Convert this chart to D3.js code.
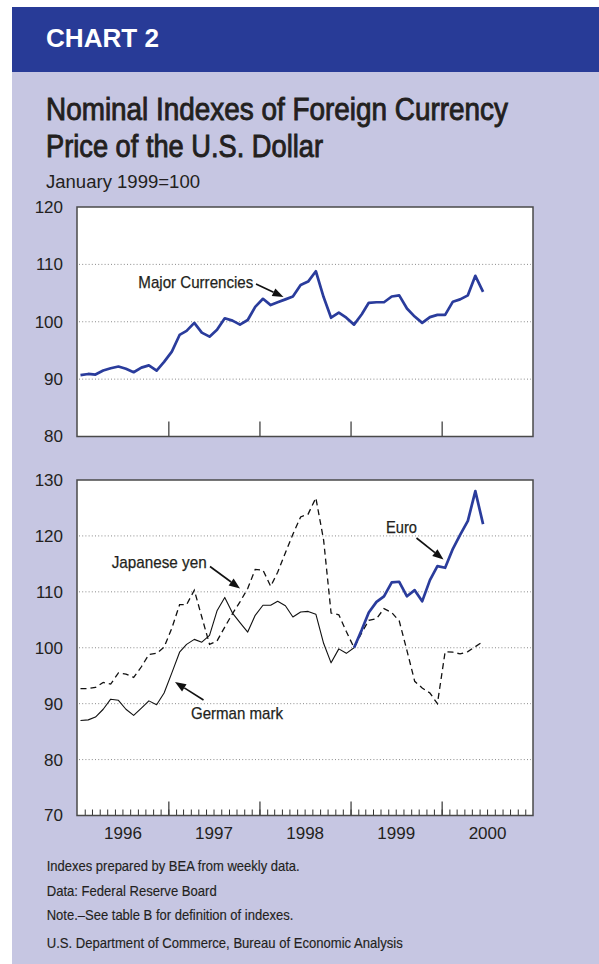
<!DOCTYPE html>
<html><head><meta charset="utf-8">
<script src="https://cdn.jsdelivr.net/npm/d3@7"></script>
<style>body{margin:0;background:#fff}svg{display:block}</style>
</head><body><svg id="c" width="599" height="964"></svg>
<script>
// ---------- data ----------
const months = [
  "1996-01","1996-02","1996-03","1996-04","1996-05","1996-06","1996-07","1996-08","1996-09","1996-10","1996-11","1996-12",
  "1997-01","1997-02","1997-03","1997-04","1997-05","1997-06","1997-07","1997-08","1997-09","1997-10","1997-11","1997-12",
  "1998-01","1998-02","1998-03","1998-04","1998-05","1998-06","1998-07","1998-08","1998-09","1998-10","1998-11","1998-12",
  "1999-01","1999-02","1999-03","1999-04","1999-05","1999-06","1999-07","1999-08","1999-09","1999-10","1999-11","1999-12",
  "2000-01","2000-02","2000-03","2000-04","2000-05","2000-06"
];
const majorCurrencies = [
  90.7, 90.9, 90.8, 91.5, 91.9, 92.2, 91.8, 91.2, 92.0, 92.4, 91.5, 93.0,
  94.8, 97.7, 98.4, 99.8, 98.1, 97.4, 98.6, 100.6, 100.2, 99.5, 100.3, 102.6,
  104.0, 102.9, 103.4, 103.9, 104.4, 106.4, 107.0, 108.8, 104.3, 100.7, 101.6, 100.7,
  99.5, 101.3, 103.3, 103.4, 103.4, 104.4, 104.6, 102.3, 100.9, 99.8, 100.8, 101.2,
  101.2, 103.5, 103.9, 104.6, 108.0, 105.2
];
const japaneseYen = [
  92.7, 92.7, 92.9, 93.8, 93.5, 95.5, 95.3, 94.7, 96.6, 98.8, 99.0, 100.1,
  103.5, 107.7, 107.7, 110.3, 105.5, 100.6, 101.2, 103.7, 106.1, 108.2, 110.6, 114.0,
  113.9, 111.0, 113.5, 117.0, 120.3, 123.4, 123.9, 126.8, 119.3, 106.2, 105.9, 102.9,
  100.0, 102.7, 104.9, 105.2, 107.0, 106.3, 104.8, 99.5, 94.0, 92.8, 91.9, 90.0,
  99.3, 99.2, 98.9, 99.3, 100.2, 101.1
];
// German mark: Jan 1996 - Jan 1999
const germanMark = [
  87.0, 87.1, 87.6, 89.0, 90.8, 90.6, 89.0, 87.9, 89.2, 90.5, 89.8, 91.9,
  95.5, 99.2, 100.6, 101.5, 101.0, 102.2, 106.6, 109.0, 106.2, 104.5, 102.8, 105.8,
  107.6, 107.6, 108.3, 107.5, 105.5, 106.4, 106.5, 106.0, 100.8, 97.3, 99.8, 99.0,
  100.0
];
// Euro: Jan 1999 - Jun 2000
const euro = [
  100.0, 103.2, 106.3, 108.2, 109.2, 111.7, 111.8, 109.2, 110.3, 108.3, 112.1, 114.6,
  114.3, 117.7, 120.2, 122.7, 128.0, 122.1
];
const euroStartIndex = 36;
const topYTicks = [80, 90, 100, 110, 120];
const bottomYTicks = [70, 80, 90, 100, 110, 120, 130];
const yearLabels = ["1996", "1997", "1998", "1999", "2000"];
const footnotes = [
  "Indexes prepared by BEA from weekly data.",
  "Data: Federal Reserve Board",
  "Note.\u2013See table B for definition of indexes.",
  "U.S. Department of Commerce, Bureau of Economic Analysis"
];

// ---------- setup ----------
const svg = d3.select("#c");
const BG = "#c6c6e2", BLUE = "#283b97", LINEBLUE = "#2a3c9c", INK = "#231f20";
const NARROW = "'Liberation Sans Narrow','Arial Narrow','Liberation Sans',Arial,sans-serif";
const SANS = "'Liberation Sans',Arial,Helvetica,sans-serif";

svg.append("rect").attr("x", 12).attr("y", 7).attr("width", 587).attr("height", 957).attr("fill", BG);
svg.append("rect").attr("x", 12).attr("y", 7).attr("width", 587).attr("height", 65).attr("fill", BLUE);

function txt(x, y, s, size, width, opts = {}) {
  const t = svg.append("text").attr("x", x).attr("y", y).text(s)
    .attr("font-family", opts.family || NARROW).attr("font-size", size)
    .attr("fill", opts.fill || INK);
  if (opts.weight) t.attr("font-weight", opts.weight);
  if (opts.stroke) t.attr("stroke", opts.fill || INK).attr("stroke-width", opts.stroke);
  if (width) t.attr("textLength", width).attr("lengthAdjust", "spacingAndGlyphs");
  return t;
}
txt(46, 47, "CHART 2", 25, 113, {family: SANS, weight: "bold", fill: "#fff"});
txt(46, 120, "Nominal Indexes of Foreign Currency", 30.5, 462, {stroke: 0.9});
txt(46, 157, "Price of the U.S. Dollar", 30.5, 277, {stroke: 0.9});
txt(46, 188, "January 1999=100", 17.5, 154, {family: SANS});

const parse = d3.timeParse("%Y-%m");
const mid = m => d3.timeDay.offset(parse(m), 14);
const x = d3.scaleTime().domain([new Date(1996, 0, 1), new Date(2001, 0, 1)]).range([77, 533]);

const L = 77, R = 533;

function frame(top, bottom, y, ticks) {
  svg.append("rect").attr("x", L).attr("y", top).attr("width", R - L).attr("height", bottom - top)
    .attr("fill", "#fff");
  svg.append("g").selectAll("line").data(ticks.slice(1, -1)).join("line")
    .attr("x1", L + 2).attr("x2", R - 2)
    .attr("y1", d => y(d)).attr("y2", d => y(d))
    .attr("stroke", "#8a8a8a").attr("stroke-width", 1).attr("stroke-dasharray", "1,2.2");
  const ax = svg.append("g").attr("transform", `translate(${L},0)`)
    .call(d3.axisLeft(y).tickValues(ticks).tickSize(0).tickPadding(14).tickFormat(d3.format("d")));
  ax.select(".domain").remove();
  ax.selectAll("text").attr("font-family", SANS).attr("font-size", 17).attr("fill", INK);
}
function border(top, bottom) {
  svg.append("rect").attr("x", L).attr("y", top).attr("width", R - L).attr("height", bottom - top)
    .attr("fill", "none").attr("stroke", "#4a4a4a").attr("stroke-width", 1.5);
}

// ---------- top chart ----------
const yTop = d3.scaleLinear().domain([80, 120]).range([436.5, 207]);
frame(207, 436.5, yTop, topYTicks);
const axTop = svg.append("g").attr("transform", "translate(0,436.5)")
  .call(d3.axisBottom(x).tickValues(yearLabels.slice(1).map(v => new Date(+v, 0, 1))).tickSize(-15).tickFormat(""));
axTop.select(".domain").remove();
axTop.selectAll("line").attr("stroke", "#333").attr("stroke-width", 1.2);

const lineTop = d3.line().x((d, i) => x(mid(months[i]))).y(d => yTop(d));
svg.append("path").datum(majorCurrencies).attr("d", lineTop)
  .attr("fill", "none").attr("stroke", LINEBLUE).attr("stroke-width", 2.7).attr("stroke-linejoin", "round");
border(207, 436.5);

// ---------- bottom chart ----------
const yBot = d3.scaleLinear().domain([70, 130]).range([815.5, 480]);
frame(480, 815.5, yBot, bottomYTicks);
const allMonths = d3.timeMonth.range(new Date(1996, 1, 1), new Date(2001, 0, 1));
const axMinor = svg.append("g").attr("transform", "translate(0,815.5)")
  .call(d3.axisBottom(x).tickValues(allMonths).tickSize(-6).tickFormat(""));
axMinor.select(".domain").remove();
axMinor.selectAll("line").attr("stroke", "#333").attr("stroke-width", 1);
const axMajor = svg.append("g").attr("transform", "translate(0,815.5)")
  .call(d3.axisBottom(x).tickValues(yearLabels.slice(1).map(v => new Date(+v, 0, 1))).tickSize(-14).tickFormat(""));
axMajor.select(".domain").remove();
axMajor.selectAll("line").attr("stroke", "#333").attr("stroke-width", 1.2);
const axLab = svg.append("g").attr("transform", "translate(0,815.5)")
  .call(d3.axisBottom(x).tickValues(yearLabels.map(v => new Date(+v, 6, 1))).tickSize(0).tickPadding(11)
    .tickFormat(d3.timeFormat("%Y")));
axLab.select(".domain").remove();
axLab.selectAll("text").attr("font-family", SANS).attr("font-size", 17).attr("fill", INK);

const lineB = off => d3.line().x((d, i) => x(mid(months[i + off]))).y(d => yBot(d));
svg.append("path").datum(japaneseYen).attr("d", lineB(0))
  .attr("fill", "none").attr("stroke", "#111").attr("stroke-width", 1.3).attr("stroke-dasharray", "6,4");
svg.append("path").datum(germanMark).attr("d", lineB(0))
  .attr("fill", "none").attr("stroke", "#111").attr("stroke-width", 1.1).attr("stroke-linejoin", "round");
svg.append("path").datum(euro).attr("d", lineB(euroStartIndex))
  .attr("fill", "none").attr("stroke", LINEBLUE).attr("stroke-width", 2.7).attr("stroke-linejoin", "round");
border(480, 815.5);

// ---------- annotations ----------
function arrow(x1, y1, x2, y2) {
  const a = Math.atan2(y2 - y1, x2 - x1), len = 11, w = 4.2;
  const bx = x2 - len * Math.cos(a), by = y2 - len * Math.sin(a);
  svg.append("line").attr("x1", x1).attr("y1", y1).attr("x2", bx).attr("y2", by)
    .attr("stroke", "#111").attr("stroke-width", 1.6);
  const px = -Math.sin(a) * w, py = Math.cos(a) * w;
  svg.append("path").attr("d", `M${x2},${y2}L${bx + px},${by + py}L${bx - px},${by - py}Z`).attr("fill", "#111");
}
txt(138.3, 287.7, "Major Currencies", 17, 115, {stroke: 0.25});
arrow(256, 284, 283.5, 297);
txt(111.7, 568, "Japanese yen", 17, 95, {stroke: 0.25});
arrow(210, 566.5, 240, 588.5);
txt(191, 719.3, "German mark", 17, 92, {stroke: 0.25});
arrow(203.5, 700, 175, 682);
txt(386, 532.7, "Euro", 17, 31, {stroke: 0.25});
arrow(416.5, 538, 443.5, 559.5);

// ---------- footnotes ----------
const fnY = [870.7, 896, 920, 948.3], fnW = [253, 170, 246.6, 356];
footnotes.forEach((s, i) => txt(46.7, fnY[i], s, 14.5, fnW[i], {stroke: 0.15}));
</script></body></html>
